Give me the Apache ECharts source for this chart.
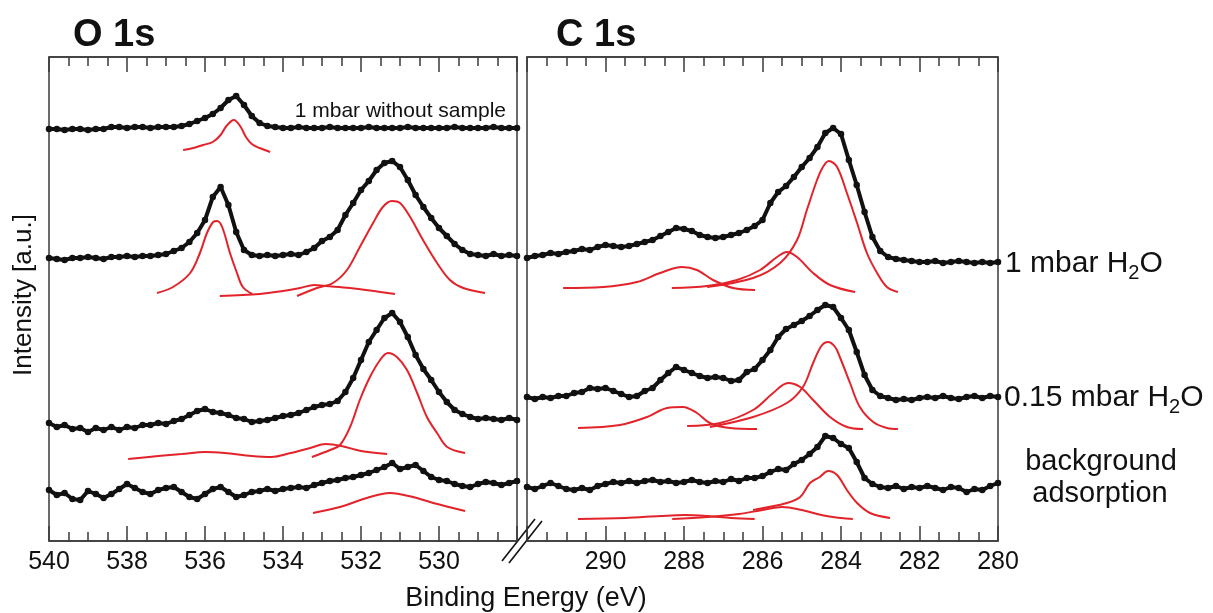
<!DOCTYPE html>
<html>
<head>
<meta charset="utf-8">
<script src="https://cdn.jsdelivr.net/npm/echarts@6/dist/echarts.min.js"></script>
<style>
html,body{margin:0;padding:0;background:#fff;}
#chart{width:1213px;height:613px;}
</style>
</head>
<body>
<div id="chart"></div>
<script>
// ---------- axis ranges / ticks ----------
const O_RANGE = [528, 540];
const C_RANGE = [280, 292];
const O_HIDDEN_LABEL = 528;
const C_HIDDEN_LABEL = 292;

// energy grids (0.2 eV steps)
const O_ENERGY = Array.from({length: 61}, (_, i) => +(540 - 0.2 * i).toFixed(1));
const C_ENERGY = Array.from({length: 61}, (_, i) => +(292 - 0.2 * i).toFixed(1));

// ---------- O 1s measured spectra (a.u., offset stacked) ----------
const O_NO_SAMPLE = [412,412,411,412,412,411,412,412,414,414,413,414,414,413,414,414,414,
  415,417,420,423,427,433,441,445,436,425,418,415,414,
  413,413,414,413,413,413,414,413,413,413,413,414,413,413,413,413,414,413,413,413,413,413,414,413,413,413,413,414,413,413,413];
const O_1MBAR = [283,282,281,283,283,284,283,282,284,284,285,284,285,285,286,287,290,293,299,308,
  321,344,354,336,309,291,286,285,286,285,286,287,286,289,293,300,304,311,326,338,
  351,360,371,378,380,374,361,346,334,323,313,305,297,291,287,286,285,287,285,286,285];
const O_015MBAR = [118,114,116,112,113,109,113,111,114,111,114,113,116,116,118,117,120,122,126,130,
  132,129,128,126,123,122,119,120,121,123,125,126,128,131,134,136,137,140,149,163,
  181,199,211,223,228,219,204,186,172,161,149,139,131,127,124,122,123,122,121,123,121];
const O_BACKGROUND = [51,46,48,42,41,50,47,43,47,52,57,53,49,47,51,53,54,49,44,42,
  47,52,54,49,44,46,49,50,52,50,52,53,54,53,56,58,60,61,63,64,
  66,68,71,74,78,72,74,76,70,64,61,60,57,55,54,57,59,58,56,58,60];

// ---------- O 1s fitted components [eV, a.u.] ----------
const O_NO_SAMPLE_FIT = [[536.56,391],[536.3,393],[536.05,396],[535.8,399],[535.6,406],[535.45,415],[535.26,421],[535.1,415],[534.95,404],[534.8,397],[534.6,393],[534.33,389]];
const O_1MBAR_FIT_A = [[537.23,248],[536.82,254],[536.38,268],[536.13,288],[535.95,308],[535.79,319],[535.69,320],[535.56,314],[535.36,288],[535.18,268],[535.03,254],[534.79,247]];
const O_1MBAR_FIT_B = [[535.62,245],[534.59,247],[534.0,250],[533.56,253],[533.2,256],[532.92,255],[532.28,253],[531.51,249],[531.13,247]];
const O_1MBAR_FIT_C = [[533.64,245],[533.13,253],[532.72,258],[532.36,271],[532.03,294],[531.69,318],[531.44,334],[531.21,340],[531.0,338],[530.74,324],[530.41,301],[530.05,278],[529.72,261],[529.38,253],[528.82,248]];
const O_015_FIT_A = [[537.97,82],[537.2,85],[536.6,87],[536.0,89],[535.5,88],[534.8,85],[534.3,84],[533.8,88],[533.3,93],[532.9,97],[532.5,95],[532.0,90],[531.33,87]];
const O_015_FIT_B = [[533.26,84],[532.79,91],[532.54,96],[532.28,114],[532.03,141],[531.77,164],[531.51,181],[531.31,188],[531.08,184],[530.82,171],[530.56,148],[530.31,124],[530.05,108],[529.79,94],[529.33,88]];
const O_BG_FIT = [[533.23,28],[532.54,34],[531.85,43],[531.26,48],[530.67,44],[530.15,38],[529.33,30]];

// ---------- C 1s measured spectra ----------
const C_1MBAR = [283,285,286,288,287,289,290,292,291,294,296,295,294,295,297,299,301,305,309,313,
  312,310,306,304,303,304,306,308,311,315,321,338,349,355,364,374,383,394,408,413,
  407,381,356,329,304,290,284,282,281,280,279,279,280,278,279,280,279,278,279,278,279];
const C_015MBAR = [144,142,144,143,145,145,148,149,153,152,153,150,147,144,145,150,153,161,168,174,
  171,168,165,163,164,163,160,161,169,172,181,191,204,212,216,220,225,231,236,234,
  223,211,189,166,151,145,143,141,142,141,143,144,143,145,143,142,144,145,143,145,144];
const C_BACKGROUND = [54,52,55,58,55,52,51,53,51,55,57,59,58,60,58,60,61,59,60,58,
  59,61,59,58,60,59,62,60,63,63,65,69,72,71,77,81,87,94,105,103,
  97,93,79,63,57,54,53,55,52,54,53,55,53,51,54,53,49,52,51,55,58];

// ---------- C 1s fitted components ----------
const C_1MBAR_FIT_A = [[291.08,253],[290.06,254],[289.2,259],[288.61,268],[288.05,274],[287.67,271],[287.26,261],[286.75,253],[286.19,251]];
const C_1MBAR_FIT_B = [[288.31,253],[287.41,255],[286.65,261],[286.06,271],[285.63,284],[285.38,289],[285.12,284],[284.71,268],[284.28,256],[283.64,249]];
const C_1MBAR_FIT_C = [[287.41,254],[286.24,263],[285.55,278],[285.12,301],[284.87,331],[284.61,361],[284.46,374],[284.31,380],[284.10,374],[283.85,348],[283.59,318],[283.34,288],[283.08,268],[282.83,254],[282.55,249]];
const C_015_FIT_A = [[290.70,113],[289.63,116],[288.94,124],[288.43,133],[288.03,134],[287.67,128],[287.34,118],[286.83,113],[286.14,112]];
const C_015_FIT_B = [[287.92,115],[287.08,118],[286.24,131],[285.73,148],[285.35,158],[285.04,154],[284.71,141],[284.28,124],[283.85,114],[283.44,112]];
const C_015_FIT_C = [[287.34,114],[286.24,124],[285.38,138],[284.97,154],[284.71,178],[284.5,195],[284.33,199],[284.15,194],[284.03,184],[283.77,158],[283.52,134],[283.18,119],[282.83,113],[282.55,112]];
const C_BG_FIT_A = [[290.7,22],[289.5,23],[288.6,25],[288.0,26],[287.4,25],[286.8,23],[286.2,22]];
const C_BG_FIT_B = [[288.3,22],[287.4,24],[286.6,27],[286.0,31],[285.5,34],[285.0,31],[284.5,26],[284.0,23],[283.7,22]];
const C_BG_FIT_C = [[286.24,31],[285.38,38],[285.04,44],[284.79,58],[284.54,64],[284.33,70],[284.10,66],[283.85,51],[283.59,38],[283.26,28],[282.75,23]];

// ---------- labels ----------
const PANEL_TITLES = ['O 1s', 'C 1s'];
const X_NAME = 'Binding Energy (eV)';
const Y_NAME = 'Intensity [a.u.]';
const SAMPLE_LABELS = [['1 mbar H', '2', 'O'], ['0.15 mbar H', '2', 'O']];
const BG_LABEL = ['background', 'adsorption'];
const REF_LABEL = '1 mbar without sample';

// ---------- build ----------
const FONT = "'Liberation Sans', Arial, Helvetica, sans-serif";
const AX = '#3a3a3a';
const BLACK = '#111';
const RED = '#e3232a';

function xAxisDef(grid, pos, range, hidden) {
  return {
    type: 'value', gridIndex: grid, position: pos, min: range[0], max: range[1],
    interval: 2, inverse: true,
    axisLine: {show: true, onZero: false, lineStyle: {color: AX, width: 1.5}},
    axisTick: {show: true, inside: true, length: 15, lineStyle: {color: AX, width: 1.5}},
    minorTick: {show: true, splitNumber: 4, length: 9, lineStyle: {color: AX, width: 1.5}},
    splitLine: {show: false}, minorSplitLine: {show: false},
    axisLabel: {
      show: pos === 'bottom', fontSize: 25, color: '#111', margin: 9, fontFamily: FONT,
      formatter: v => (v === hidden ? '' : String(v))
    }
  };
}

function measured(axis, energies, vals) {
  return {
    type: 'line', xAxisIndex: axis, yAxisIndex: axis < 2 ? 0 : 1,
    data: energies.map((e, i) => [e, vals[i]]),
    symbol: 'circle', symbolSize: 6.5, showSymbol: true,
    itemStyle: {color: BLACK}, lineStyle: {color: BLACK, width: 4},
    z: 3, silent: true
  };
}
function fit(axis, pts) {
  return {
    type: 'line', xAxisIndex: axis, yAxisIndex: axis < 2 ? 0 : 1,
    data: pts, smooth: 0.35, symbol: 'none',
    lineStyle: {color: RED, width: 2}, z: 2, silent: true
  };
}

const series = [
  measured(0, O_ENERGY, O_NO_SAMPLE),
  measured(0, O_ENERGY, O_1MBAR),
  measured(0, O_ENERGY, O_015MBAR),
  measured(0, O_ENERGY, O_BACKGROUND),
  fit(0, O_NO_SAMPLE_FIT), fit(0, O_1MBAR_FIT_A), fit(0, O_1MBAR_FIT_B), fit(0, O_1MBAR_FIT_C),
  fit(0, O_015_FIT_A), fit(0, O_015_FIT_B), fit(0, O_BG_FIT),
  measured(2, C_ENERGY, C_1MBAR),
  measured(2, C_ENERGY, C_015MBAR),
  measured(2, C_ENERGY, C_BACKGROUND),
  fit(2, C_1MBAR_FIT_A), fit(2, C_1MBAR_FIT_B), fit(2, C_1MBAR_FIT_C),
  fit(2, C_015_FIT_A), fit(2, C_015_FIT_B), fit(2, C_015_FIT_C),
  fit(2, C_BG_FIT_A), fit(2, C_BG_FIT_B), fit(2, C_BG_FIT_C)
];

// text measurement for subscript layout
const mctx = document.createElement('canvas').getContext('2d');
function textWidth(t, size) {
  mctx.font = size + 'px ' + FONT;
  return mctx.measureText(t).width;
}
function txt(text, x, y, size, opts) {
  return {
    type: 'text', x: x, y: y,
    style: Object.assign({text: text, fontSize: size, fontFamily: FONT, fill: '#111',
      textAlign: 'left', textVerticalAlign: 'middle', verticalAlign: 'middle'}, opts || {})
  };
}
function subLabel(parts, x, y, size, subSize) {
  const w0 = textWidth(parts[0], size);
  const w1 = textWidth(parts[1], subSize);
  return [
    txt(parts[0], x, y, size),
    txt(parts[1], x + w0, y + 9, subSize),
    txt(parts[2], x + w0 + w1, y, size)
  ];
}

const graphics = [
  txt(PANEL_TITLES[0], 73, 36, 38, {fontWeight: 'bold'}),
  txt(PANEL_TITLES[1], 556, 36, 38, {fontWeight: 'bold'}),
  txt(REF_LABEL, 506, 111, 21, {textAlign: 'right'}),
  ...subLabel(SAMPLE_LABELS[0], 1005, 264, 30, 20),
  ...subLabel(SAMPLE_LABELS[1], 1004, 398, 30, 20),
  txt(BG_LABEL[0], 1101, 462, 29, {textAlign: 'center'}),
  txt(BG_LABEL[1], 1100, 494, 29, {textAlign: 'center'}),
  txt(X_NAME, 526, 599, 27, {textAlign: 'center'}),
  {type: 'text', x: 24, y: 295, rotation: Math.PI / 2,
    style: {text: Y_NAME, fontSize: 26, fontFamily: FONT, fill: '#111',
      textAlign: 'center', textVerticalAlign: 'middle', verticalAlign: 'middle'}},
  {type: 'line', shape: {x1: 502, y1: 561, x2: 535, y2: 519}, style: {stroke: '#111', lineWidth: 1.6}},
  {type: 'line', shape: {x1: 509, y1: 563, x2: 542, y2: 521}, style: {stroke: '#111', lineWidth: 1.6}}
];

const option = {
  animation: false,
  backgroundColor: '#fff',
  grid: [
    {left: 49, top: 57, width: 468, height: 484, show: true, borderColor: AX, borderWidth: 1.5},
    {left: 527, top: 57, width: 471, height: 484, show: true, borderColor: AX, borderWidth: 1.5}
  ],
  xAxis: [
    xAxisDef(0, 'bottom', O_RANGE, O_HIDDEN_LABEL),
    xAxisDef(0, 'top', O_RANGE, O_HIDDEN_LABEL),
    xAxisDef(1, 'bottom', C_RANGE, C_HIDDEN_LABEL),
    xAxisDef(1, 'top', C_RANGE, C_HIDDEN_LABEL)
  ],
  yAxis: [
    {type: 'value', gridIndex: 0, min: 0, max: 484, show: false},
    {type: 'value', gridIndex: 1, min: 0, max: 484, show: false}
  ],
  series: series,
  graphic: graphics
};

const chart = echarts.init(document.getElementById('chart'), null, {renderer: 'canvas'});
chart.setOption(option);
</script>
</body>
</html>
